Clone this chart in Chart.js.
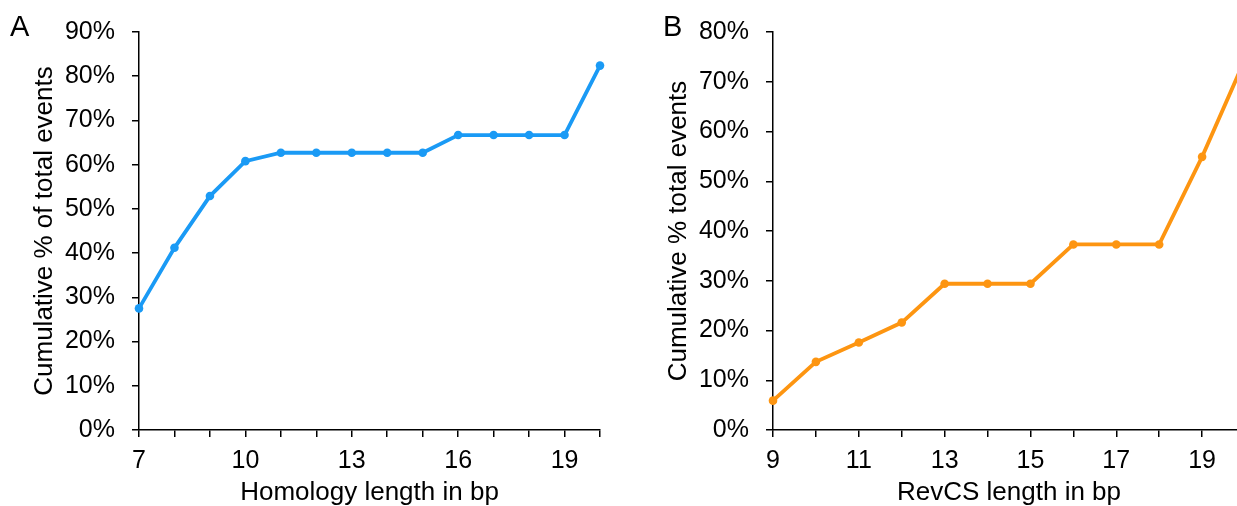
<!DOCTYPE html>
<html>
<head>
<meta charset="utf-8">
<script src="https://cdn.jsdelivr.net/npm/chart.js@4.4.1/dist/chart.umd.min.js"></script>
<style>
  html, body { margin: 0; padding: 0; background: #fff; overflow: hidden; width: 1237px; height: 506px; }
  #wrap { position: relative; width: 1237px; height: 506px; overflow: hidden; }
  canvas { position: absolute; top: 0; }
  #chartA { left: 0; }
  #chartB { left: 620px; }
  .panel { position: absolute; font-family: "Liberation Sans", Arial, Helvetica, sans-serif; font-size: 29px; line-height: 29px; color: #000; }
</style>
</head>
<body>
<div id="wrap">
  <canvas id="chartA" width="620" height="506"></canvas>
  <canvas id="chartB" width="645" height="506"></canvas>
  <div class="panel" style="left:10px; top:12px;">A</div>
  <div class="panel" style="left:663px; top:12px;">B</div>
</div>
<script>
// Panel A: homology length
const homologyLengths = [7, 8, 9, 10, 11, 12, 13, 14, 15, 16, 17, 18, 19, 20];
const homologyPct = [27.5, 41.2, 52.9, 60.8, 62.7, 62.7, 62.7, 62.7, 62.7, 66.7, 66.7, 66.7, 66.7, 82.4];
const homologyTicks = [7, 10, 13, 16, 19];

// Panel B: RevCS length
const revcsLengths = [9, 10, 11, 12, 13, 14, 15, 16, 17, 18, 19, 20];
const revcsPct = [5.9, 13.7, 17.6, 21.6, 29.4, 29.4, 29.4, 37.3, 37.3, 37.3, 54.9, 74.5];
const revcsTicks = [9, 11, 13, 15, 17, 19];

const FONT = '"Liberation Sans", Arial, Helvetica, sans-serif';

function makeChart(id, xs, ys, color, xTicks, xMin, xMax, yMax, xTitle, yTitle, yWidth, yTitlePad) {
    const ctx = document.getElementById(id).getContext('2d');
    return new Chart(ctx, {
        type: 'line',
        data: {
            datasets: [{
                data: xs.map((x, i) => ({x: x, y: ys[i]})),
                borderColor: color,
                backgroundColor: color,
                borderWidth: 3.8,
                pointRadius: 4.3,
                pointHoverRadius: 4.3,
                pointBorderWidth: 0,
                tension: 0,
                clip: false
            }]
        },
        options: {
            responsive: false,
            animation: false,
            layout: { padding: { top: 29, right: 20, bottom: 0, left: 0 } },
            plugins: {
                legend: { display: false },
                tooltip: { enabled: false }
            },
            scales: {
                x: {
                    type: 'linear',
                    min: xMin,
                    max: xMax,
                    afterFit: function(scale) { scale.height = 76; },
                    border: { display: true, color: '#000', width: 1.5 },
                    grid: { drawOnChartArea: false, drawTicks: true, tickLength: 7, color: '#000', lineWidth: 1.5 },
                    ticks: {
                        stepSize: 1,
                        autoSkip: false,
                        maxRotation: 0,
                        padding: 9,
                        color: '#000',
                        font: { family: FONT, size: 25 },
                        callback: function(value) {
                            return xTicks.includes(value) ? String(value) : '';
                        }
                    },
                    title: {
                        display: true,
                        text: xTitle,
                        color: '#000',
                        font: { family: FONT, size: 26 },
                        padding: { top: 0, bottom: -2 }
                    }
                },
                y: {
                    min: 0,
                    max: yMax,
                    afterFit: function(scale) { scale.width = yWidth; },
                    border: { display: true, color: '#000', width: 1.5 },
                    grid: { drawOnChartArea: false, drawTicks: true, tickLength: 7, color: '#000', lineWidth: 1.5 },
                    ticks: {
                        stepSize: 10,
                        padding: 17,
                        color: '#000',
                        font: { family: FONT, size: 25 },
                        callback: function(value) { return value + '%'; }
                    },
                    title: {
                        display: true,
                        text: yTitle,
                        color: '#000',
                        font: { family: FONT, size: 26 },
                        padding: { top: yTitlePad, bottom: 0 }
                    }
                }
            }
        }
    });
}

makeChart('chartA', homologyLengths, homologyPct, '#1a9af5', homologyTicks, 7, 20, 90,
    'Homology length in bp', 'Cumulative % of total events', 139, 29);
makeChart('chartB', revcsLengths, revcsPct, '#fd9511', revcsTicks, 9, 20, 80,
    'RevCS length in bp', 'Cumulative % total events', 153, 43);
</script>
</body>
</html>
